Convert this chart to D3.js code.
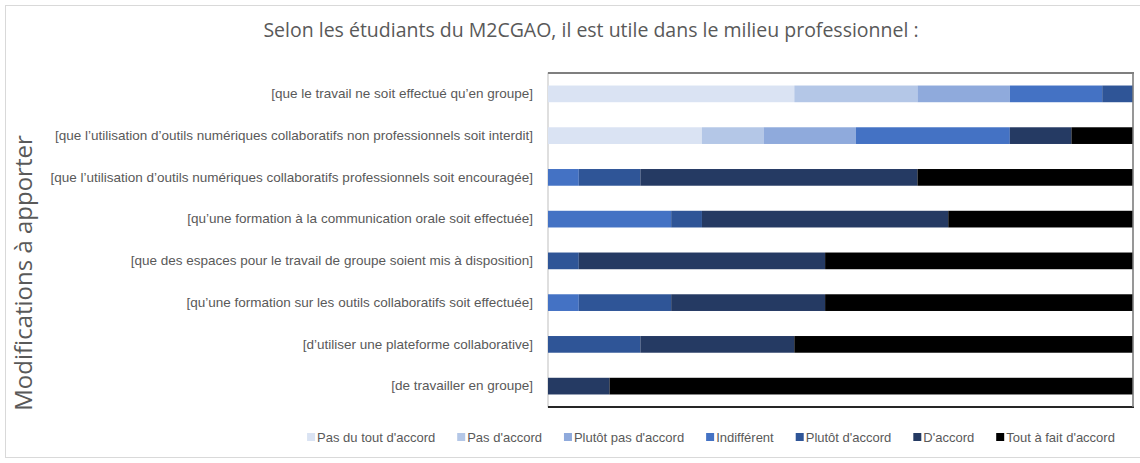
<!DOCTYPE html>
<html>
<head>
<meta charset="utf-8">
<script src="https://cdn.jsdelivr.net/npm/d3@7"></script>
<style>
  html, body { margin: 0; padding: 0; background: #fff; }
  svg { display: block; }
  text { fill: #595959; }
</style>
</head>
<body>
<svg id="chart" width="1140" height="463"></svg>
<script>
// Survey answers (19 respondents) per proposed change
const categories = [
  "[que le travail ne soit effectué qu’en groupe]",
  "[que l’utilisation d’outils numériques collaboratifs non professionnels soit interdit]",
  "[que l’utilisation d’outils numériques collaboratifs professionnels soit encouragée]",
  "[qu’une formation à la communication orale soit effectuée]",
  "[que des espaces pour le travail de groupe soient mis à disposition]",
  "[qu’une formation sur les outils collaboratifs soit effectuée]",
  "[d’utiliser une plateforme collaborative]",
  "[de travailler en groupe]"
];
const seriesNames = [
  "Pas du tout d'accord", "Pas d'accord", "Plutôt pas d'accord", "Indifférent",
  "Plutôt d'accord", "D'accord", "Tout à fait d'accord"
];
const pasDuTout   = [8, 5, 0, 0, 0, 0, 0, 0];
const pasDAccord  = [4, 2, 0, 0, 0, 0, 0, 0];
const plutotPas   = [3, 3, 0, 0, 0, 0, 0, 0];
const indifferent = [3, 5, 1, 4, 0, 1, 0, 0];
const plutotDAcc  = [1, 0, 2, 1, 1, 3, 3, 0];
const dAccord     = [0, 2, 9, 8, 8, 5, 5, 2];
const toutAFait   = [0, 2, 7, 6, 10, 10, 11, 17];
const seriesColors = ["#dae3f3", "#b4c7e7", "#8faadc", "#4472c4", "#2f5597", "#253a63", "#000000"];

const seriesValues = [pasDuTout, pasDAccord, plutotPas, indifferent, plutotDAcc, dAccord, toutAFait];
const rows = categories.map((c, i) => {
  const r = { cat: c };
  seriesNames.forEach((s, k) => { r[s] = seriesValues[k][i]; });
  return r;
});

const svg = d3.select("#chart");
const plot = { left: 548, right: 1133, top: 73, bottom: 407 };

// outer chart border
svg.append("rect")
  .attr("x", 5.5).attr("y", 5.5).attr("width", 1140).attr("height", 452)
  .attr("fill", "none").attr("stroke", "#d9d9d9");

// title
svg.append("text")
  .attr("x", 591).attr("y", 37)
  .attr("text-anchor", "middle")
  .style("font-family", "'Open Sans', sans-serif")
  .style("font-size", "19.5px")
  .text("Selon les étudiants du M2CGAO, il est utile dans le milieu professionnel :");

// y axis title
svg.append("text")
  .attr("transform", `translate(32,${(plot.top + plot.bottom) / 2 + 33}) rotate(-90)`)
  .attr("text-anchor", "middle")
  .style("font-family", "'Open Sans', sans-serif")
  .style("font-size", "24px")
  .text("Modifications à apporter");

const x = d3.scaleLinear().domain([0, 1]).range([plot.left, plot.right]);
const y = d3.scaleBand().domain(categories).range([plot.top, plot.bottom])
  .paddingInner(0.6).paddingOuter(0.3);
const color = d3.scaleOrdinal().domain(seriesNames).range(seriesColors);

const stack = d3.stack().keys(seriesNames).offset(d3.stackOffsetExpand);
const stacked = stack(rows);

// plot frame
svg.append("rect")
  .attr("x", plot.left).attr("y", plot.top)
  .attr("width", plot.right - plot.left).attr("height", plot.bottom - plot.top)
  .attr("fill", "none").attr("stroke", "#bfbfbf");

svg.append("g").selectAll("g")
  .data(stacked)
  .join("g")
  .attr("fill", d => color(d.key))
  .selectAll("rect")
  .data(d => d)
  .join("rect")
  .attr("x", d => x(d[0]))
  .attr("width", d => Math.max(0, x(d[1]) - x(d[0])))
  .attr("y", d => y(d.data.cat))
  .attr("height", y.bandwidth());

// darker top and bottom edges of the frame
svg.append("line").attr("x1", plot.left).attr("x2", plot.right + 1)
  .attr("y1", plot.top).attr("y2", plot.top)
  .attr("stroke", "#7f7f7f").attr("stroke-width", 2);
svg.append("line").attr("x1", plot.left).attr("x2", plot.right + 1)
  .attr("y1", plot.bottom).attr("y2", plot.bottom)
  .attr("stroke", "#262626").attr("stroke-width", 2);
svg.append("line").attr("x1", plot.right).attr("x2", plot.right)
  .attr("y1", plot.top).attr("y2", plot.bottom)
  .attr("stroke", "#7f7f7f").attr("stroke-width", 1.5);

// category labels (condensed)
const yAxis = svg.append("g")
  .attr("transform", `translate(${plot.left},0)`)
  .call(d3.axisLeft(y).tickSize(0).tickPadding(15));
yAxis.select(".domain").remove();
yAxis.selectAll("text")
  .style("font-family", "'Liberation Sans Narrow', 'Liberation Sans', sans-serif")
  .style("font-size", "13.5px")
  .attr("fill", "#595959");

// legend
const legend = svg.append("g");
const items = legend.selectAll("g").data(seriesNames).join("g");
items.append("rect").attr("width", 8).attr("height", 8).attr("y", -9)
  .attr("fill", d => color(d));
items.append("text").attr("x", 10).attr("y", 0)
  .style("font-family", "'Liberation Sans Narrow', 'Liberation Sans', sans-serif")
  .style("font-size", "13px")
  .text(d => d);
let cx = 0;
const gap = 22;
items.each(function () {
  const g = d3.select(this);
  const w = 10 + g.select("text").node().getComputedTextLength();
  g.attr("transform", `translate(${cx},0)`);
  cx += w + gap;
});
const totalW = cx - gap;
legend.attr("transform", `translate(${711 - totalW / 2},442)`);
</script>
</body>
</html>
